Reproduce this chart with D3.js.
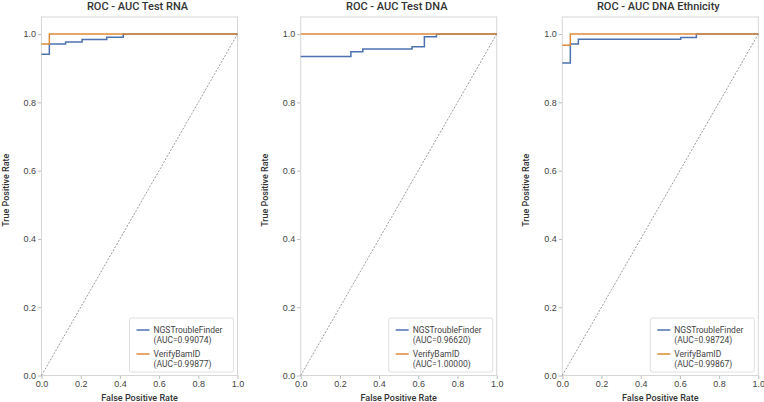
<!DOCTYPE html>
<html>
<head>
<meta charset="utf-8">
<script src="https://cdn.jsdelivr.net/npm/d3@7"></script>
<style>
  html, body { margin: 0; padding: 0; background: #fff; }
  svg { display: block; font-family: Roboto, "Noto Sans", sans-serif; }
  .tick text { fill: #444; font-size: 9px; }
  .tick line { stroke: #bbb; }
  .domain { display: none; }
</style>
</head>
<body>
<svg id="chart" width="764" height="402"></svg>
<script>
/* ROC curves, three panels. Points are (FPR, TPR) step corners. */
const titles = ["ROC - AUC Test RNA", "ROC - AUC Test DNA", "ROC - AUC DNA Ethnicity"];
const seriesNames = ["NGSTroubleFinder", "VerifyBamID"];
const seriesColors = ["#4c72b0", "#dd8a3a"];
const aucLabels = [
  ["0.99074", "0.99877"],
  ["0.96620", "1.00000"],
  ["0.98724", "0.99867"]
];

const ngsFpr = [
  [0, 0.04, 0.123, 0.207, 0.333, 0.417, 1],
  [0, 0.256, 0.317, 0.568, 0.631, 0.693, 1],
  [0, 0.041, 0.082, 0.604, 0.684, 1]
];
const ngsTpr = [
  [0.941, 0.971, 0.977, 0.984, 0.991, 1, 1],
  [0.934, 0.948, 0.956, 0.963, 0.992, 1, 1],
  [0.915, 0.971, 0.985, 0.990, 1, 1]
];
const vbFpr = [
  [0, 0.04, 1],
  [0, 1],
  [0, 0.041, 1]
];
const vbTpr = [
  [0.971, 1, 1],
  [1, 1],
  [0.967, 1, 1]
];
const xTicks = [0, 0.2, 0.4, 0.6, 0.8, 1.0];
const yTicks = [0, 0.2, 0.4, 0.6, 0.8, 1.0];

const svg = d3.select("#chart");
const panelLeft = [41.5, 300.7, 562.3];
const PW = 196, TOP = 17, BOTTOM = 375.5;

const y = d3.scaleLinear().domain([0, 1.05]).range([BOTTOM, TOP]);

panelLeft.forEach((left, i) => {
  const x = d3.scaleLinear().domain([0, 1]).range([left, left + PW]);
  const g = svg.append("g");

  // axes
  g.append("g").attr("transform", `translate(0,${BOTTOM})`)
    .call(d3.axisBottom(x).tickValues(xTicks).tickFormat(d3.format(".1f")).tickSize(3.5).tickPadding(2));
  g.append("g").attr("transform", `translate(${left},0)`)
    .call(d3.axisLeft(y).tickValues(yTicks).tickFormat(d3.format(".1f")).tickSize(3.5).tickPadding(2));

  // frame
  g.append("rect").attr("x", left).attr("y", TOP)
    .attr("width", PW).attr("height", BOTTOM - TOP)
    .attr("fill", "none").attr("stroke", "#d6d6d6").attr("stroke-width", 1);

  // chance diagonal
  g.append("line")
    .attr("x1", x(0)).attr("y1", y(0)).attr("x2", x(1)).attr("y2", y(1))
    .attr("stroke", "#555").attr("stroke-width", 0.6).attr("stroke-dasharray", "2,1.5");

  const line = d3.line().x(d => x(d[0])).y(d => y(d[1])).curve(d3.curveStepAfter);
  const curves = [
    d3.zip(ngsFpr[i], ngsTpr[i]),
    d3.zip(vbFpr[i], vbTpr[i])
  ];
  curves.forEach((pts, k) => {
    g.append("path").datum(pts).attr("d", line)
      .attr("fill", "none").attr("stroke", seriesColors[k]).attr("stroke-width", 1.5);
  });

  // title + labels
  g.append("text").attr("x", left + PW / 2 - 2).attr("y", 9.5)
    .attr("text-anchor", "middle").attr("font-size", 11).attr("font-weight", 500)
    .attr("fill", "#333").text(titles[i]);
  g.append("text").attr("x", left + PW / 2).attr("y", 401)
    .attr("text-anchor", "middle").attr("font-size", 9).attr("font-weight", 500)
    .attr("fill", "#333").text("False Positive Rate");
  g.append("text")
    .attr("transform", `translate(${left - 33},${(TOP + BOTTOM) / 2 - 6}) rotate(-90)`)
    .attr("text-anchor", "middle").attr("font-size", 9).attr("font-weight", 500)
    .attr("fill", "#333").text("True Positive Rate");

  // legend
  const lx = left + 88, ly = 318;
  const lg = g.append("g");
  lg.append("rect").attr("x", lx).attr("y", ly).attr("width", 104).attr("height", 54)
    .attr("rx", 2).attr("fill", "#fff").attr("stroke", "#d6d6d6").attr("stroke-width", 0.8);
  seriesNames.forEach((name, k) => {
    const yy = ly + 12 + k * 24;
    lg.append("line").attr("x1", lx + 7).attr("x2", lx + 20).attr("y1", yy).attr("y2", yy)
      .attr("stroke", seriesColors[k]).attr("stroke-width", 1.5);
    lg.append("text").attr("x", lx + 24).attr("y", yy + 3)
      .attr("font-size", 8.5).attr("fill", "#444").text(name);
    lg.append("text").attr("x", lx + 24).attr("y", yy + 13)
      .attr("font-size", 8.5).attr("fill", "#444").text(`(AUC=${aucLabels[i][k]})`);
  });
});
</script>
</body>
</html>
